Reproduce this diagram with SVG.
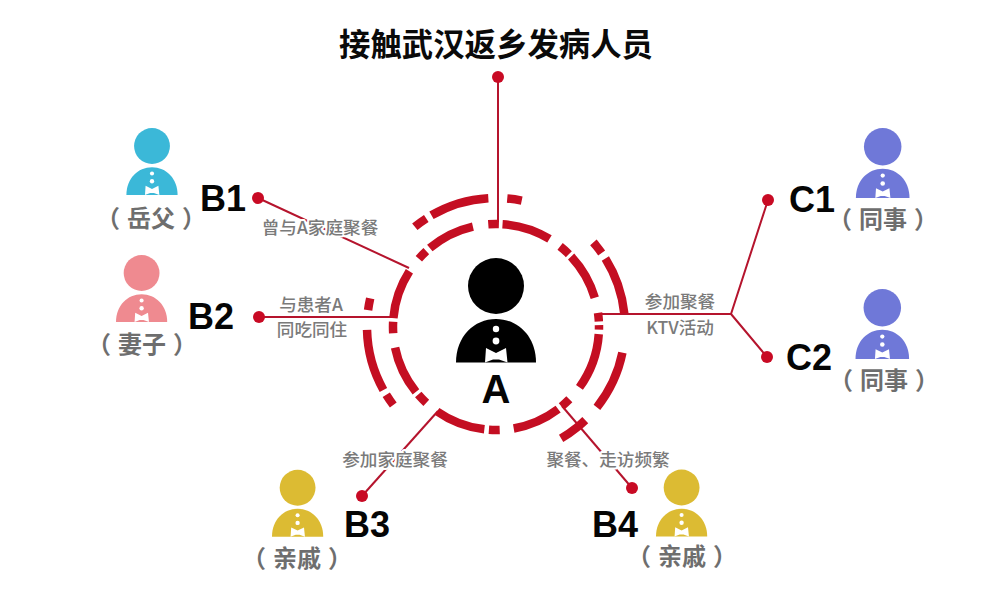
<svg xmlns="http://www.w3.org/2000/svg" width="1000" height="608" viewBox="0 0 1000 608">
<style>
.title{font-size:31.4px;font-weight:700;fill:#0a0a0a;text-anchor:middle;font-family:"Noto Sans CJK SC",sans-serif}
.id{font-size:36px;font-weight:700;fill:#050505;font-family:"Liberation Sans",sans-serif}
.a{font-size:40px;text-anchor:middle}
.role{font-size:24px;font-weight:700;fill:#6e6e6e;font-feature-settings:"palt";text-anchor:middle;font-family:"Noto Sans CJK SC",sans-serif}
.s{letter-spacing:8px}
.lab{font-size:17.6px;font-weight:500;fill:#7a7a7a;text-anchor:middle;font-family:"Noto Sans CJK SC",sans-serif;paint-order:stroke;stroke:#fff;stroke-width:4px;stroke-linejoin:round}
.line{fill:none;stroke:#b5142d;stroke-width:2}
.dot{fill:#c80a24}
.ring{fill:none;stroke:#c40e22;stroke-width:8.5}
</style>
<defs>
<symbol id="person" overflow="visible" viewBox="-40 -105 80 105" width="80" height="105">
<circle cx="0" cy="-76.5" r="28" fill="currentColor"/>
<path d="M-40 0C-40-26-22-43.5 0-43.5S40-26 40 0Z" fill="currentColor"/>
<circle cx="0" cy="-33.5" r="3.2" fill="#fff"/>
<circle cx="0" cy="-21.5" r="3.4" fill="#fff"/>
<path d="M-10-14.5L0-9.5L10-14.5L11.5 0L3 -3H-3L-11 0Z" fill="#fff"/>
</symbol>
</defs>
<rect width="1000" height="608" fill="#fff"/>
<text id="title" class="title" x="496" y="56">接触武汉返乡发病人员</text>

<g id="connectors">
<path class="line" d="M498 77V222"/>
<path class="line" d="M258 198L409 268"/>
<path class="line" d="M259 317H393"/>
<path class="line" d="M600 314H731L768 200M731 314L767 357"/>
<path class="line" d="M362 496L438 411"/>
<path class="line" d="M632 488L562 406"/>
<circle class="dot" cx="498" cy="77" r="6"/>
<circle class="dot" cx="258" cy="198" r="6"/>
<circle class="dot" cx="259" cy="317" r="6"/>
<circle class="dot" cx="768" cy="200" r="6"/>
<circle class="dot" cx="767" cy="357" r="6"/>
<circle class="dot" cx="362" cy="496" r="6"/>
<circle class="dot" cx="632" cy="488" r="6"/>
<text class="lab" x="320" y="234">曾与A家庭聚餐</text>
<text class="lab" x="311" y="311">与患者A</text>
<text class="lab" x="312" y="336">同吃同住</text>
<text class="lab" x="680" y="308">参加聚餐</text>
<text class="lab" x="680" y="334">KTV活动</text>
<text class="lab" x="395" y="466">参加家庭聚餐</text>
<text class="lab" x="608" y="466">聚餐、走访频繁</text>
</g>

<g id="node-A">
<circle class="ring" cx="496" cy="327" r="103" pathLength="360" transform="rotate(-94.3 496 327)" stroke-dasharray="6 2 27.6 7.2 6.5 1.8 26.7 8.5 5 2 2.5 2.5 31.9 8.7 5.9 2.4 27.1 8 6 2.5 28.5 7.6 6.4 2 27.4 8.1 6.5 2 27.8 8.7 5.9 2.6 27 8.7"/>
<circle class="ring" cx="496" cy="327" r="129" pathLength="360" transform="rotate(231 496 327)" stroke-dasharray="6.3 2.7 26.6 8.4 6.5 37.5 6 3 26 17.5 27 7.7 13.5 83.1 5.5 2.5 27.9 8.8 5.3 38.2"/>
<use href="#person" x="456" y="257.5" width="80" height="105" color="#000"/>
<text class="id a" x="496" y="403">A</text>
</g>

<g id="node-B1">
<use href="#person" x="126.4" y="127.8" width="51.2" height="67.2" color="#3bb8d8"/>
<text class="id" x="200" y="211">B1</text>
<text class="role" x="151" y="227"><tspan class="s">（</tspan>岳<tspan class="s">父</tspan>）</text>
</g>
<g id="node-B2">
<use href="#person" x="116" y="254.8" width="51.2" height="67.2" color="#ef8a90"/>
<text class="id" x="188" y="329">B2</text>
<text class="role" x="142" y="353"><tspan class="s">（</tspan>妻<tspan class="s">子</tspan>）</text>
</g>
<g id="node-B3">
<use href="#person" x="272" y="469.5" width="51.2" height="67.2" color="#dcbb33"/>
<text class="id" x="344" y="537">B3</text>
<text class="role" x="297" y="567"><tspan class="s">（</tspan>亲<tspan class="s">戚</tspan>）</text>
</g>
<g id="node-B4">
<use href="#person" x="656" y="469.3" width="51.2" height="67.2" color="#dcbb33"/>
<text class="id" x="592" y="537">B4</text>
<text class="role" x="682" y="565"><tspan class="s">（</tspan>亲<tspan class="s">戚</tspan>）</text>
</g>
<g id="node-C1">
<use href="#person" x="855.9" y="127.6" width="53.6" height="70.4" color="#6f78d8"/>
<text class="id" x="789" y="212">C1</text>
<text class="role" x="883" y="228"><tspan class="s">（</tspan>同<tspan class="s">事</tspan>）</text>
</g>
<g id="node-C2">
<use href="#person" x="855.5" y="288.6" width="53.6" height="70.4" color="#6f78d8"/>
<text class="id" x="786" y="370">C2</text>
<text class="role" x="884" y="389"><tspan class="s">（</tspan>同<tspan class="s">事</tspan>）</text>
</g>
</svg>
